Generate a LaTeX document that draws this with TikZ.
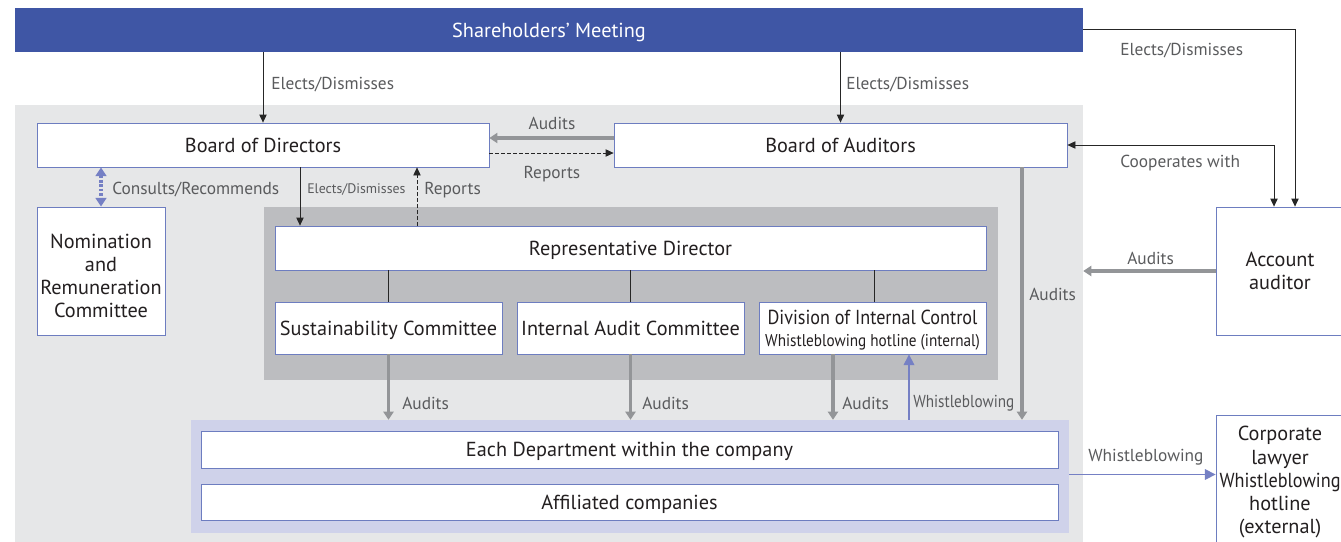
\documentclass[tikz,border=0pt]{standalone}
\usepackage{fontspec}
\usepackage{graphicx}
\setmainfont{PT Sans}
\usetikzlibrary{arrows.meta,calc}
\definecolor{shblue}{HTML}{3F56A5}
\definecolor{panelgray}{HTML}{E6E7E8}
\definecolor{darkpanel}{HTML}{BCBDC0}
\definecolor{lavender}{HTML}{CFD2EA}
\definecolor{boxblue}{HTML}{6D7DC0}
\definecolor{midgray}{HTML}{939598}
\definecolor{lblgray}{HTML}{5A5B5D}
\definecolor{textdark}{HTML}{231F20}
\definecolor{wbblue}{HTML}{7580C4}
\begin{document}
\begin{tikzpicture}[x=0.75pt,y=-0.75pt,
  area/.style n args={4}{minimum width={(#3-#1)*0.75pt}, minimum height={(#4-#2)*0.75pt},
    at={({(#1+#3)/2},{(#2+#4)/2})}},
  box/.style={draw=boxblue, line width=0.6pt, fill=white, inner sep=1pt, align=center,
    font=\fontsize{15.2}{17.4}\selectfont, text=textdark, text depth=-3pt},
  panel/.style={draw=none, inner sep=0pt},
  lbl/.style={font=\fontsize{13}{15}\selectfont, text=lblgray, inner sep=0pt},
  lblsmall/.style={font=\fontsize{10.4}{12}\selectfont, text=lblgray, inner sep=0pt},
  thinarr/.style={draw=black!85, line width=0.6pt, -{Triangle[length=6pt,width=5.5pt]}},
  dasharr/.style={draw=black!85, line width=0.6pt, dash pattern=on 2.5pt off 2pt, -{Triangle[length=6pt,width=5.5pt]}},
  grayarr/.style={draw=midgray, line width=2.3pt, -{Triangle[length=6pt,width=7.5pt]}},
  wbarr/.style={draw=wbblue, line width=0.9pt, -{Triangle[length=8pt,width=8pt]}},
  consult/.style={draw=wbblue, line width=2.4pt, dash pattern=on 2pt off 1.3pt, {Triangle[length=6.5pt,width=8pt]}-{Triangle[length=6.5pt,width=8pt]}},
  plainline/.style={draw=black!85, line width=0.6pt}
]
\useasboundingbox (0,0) rectangle (1341,542);

% panels
\node[panel, fill=panelgray, area={15}{105}{1083}{542}] (gp) {};
\node[panel, fill=darkpanel, area={264}{207}{998}{380}] (dp) {};
\node[panel, fill=lavender, area={191}{420}{1069}{533}] (lp) {};
\node[panel, fill=shblue, area={15}{8}{1083}{52}, text=white, text depth=-0.5pt, font=\fontsize{15.2}{17}\selectfont] (sh) {Shareholders’ Meeting};

% boxes
\node[box, area={37}{123}{489}{167}] (bod) {Board of Directors};
\node[box, area={614}{123}{1067}{167}] (boa) {Board of Auditors};
\node[box, area={37}{207}{165}{335}] (nom) {\rule{0pt}{18pt}Nomination\\and\\Remuneration\\Committee};
\node[box, area={275}{226}{986}{270}] (rd) {Representative Director};
\node[box, area={275}{302}{502}{354}, text depth=-1.5pt] (sc) {Sustainability Committee};
\node[box, area={517}{302}{744}{354}, text depth=-1.5pt] (iac) {Internal Audit Committee};
\node[box, area={759}{302}{986}{354}] (dic) {\resizebox{157.5pt}{\height}{Division of Internal Control}\\[-1pt]{\fontsize{12.8}{14}\selectfont\resizebox{161pt}{\height}{Whistleblowing hotline (internal)}}};
\node[box, area={201}{431}{1058}{468}] (dep) {Each Department within the company};
\node[box, area={201}{484}{1058}{520}] (aff) {Affiliated companies};
\node[box, area={1216}{207}{1344}{335}, text depth=0pt] (aa) {Account\\auditor};
\node[box, area={1216}{415}{1344}{545}] (cl) {Corporate\\lawyer\\\resizebox{90.75pt}{\height}{Whistleblowing}\\hotline\\(external)};

% x positions
\coordinate (xelect) at (300,0);
\coordinate (xrep) at (417,0);
\coordinate (xdicl) at (874,0);
\coordinate (xdica) at (833,0);
\coordinate (xwb) at (909,0);
\coordinate (xboa) at (1022,0);
\coordinate (xcoop) at (1274,0);
\coordinate (xel) at (1295,0);

% connectors
\draw[thinarr] (bod.north |- sh.south) -- (bod.north);
\draw[thinarr] (boa.north |- sh.south) -- (boa.north);
\draw[grayarr] ($(boa.west)+(0,-7)$) -- ($(bod.east)+(0,-7)$);
\draw[dasharr] ($(bod.east)+(0,8)$) -- ($(boa.west)+(0,8)$);
\draw[consult] (bod.south -| nom.north) -- (nom.north);
\draw[thinarr] (bod.south -| xelect) -- (rd.north -| xelect);
\draw[dasharr] (rd.north -| xrep) -- (bod.south -| xrep);
\draw[plainline] (rd.south -| sc.north) -- (sc.north);
\draw[plainline] (rd.south -| iac.north) -- (iac.north);
\draw[plainline] (rd.south -| xdicl) -- (dic.north -| xdicl);
\draw[grayarr] (sc.south) -- (lp.north -| sc.south);
\draw[grayarr] (iac.south) -- (lp.north -| iac.south);
\draw[grayarr] (dic.south -| xdica) -- (lp.north -| xdica);
\draw[wbarr] (lp.north -| xwb) -- (dic.south -| xwb);
\draw[grayarr] (boa.south -| xboa) -- (lp.north -| xboa);
\draw[thinarr] ($(sh.east)+(0,-1)$) -| (aa.north -| xel);
\draw[thinarr, {Triangle[length=6pt,width=5.5pt]}-{Triangle[length=6pt,width=5.5pt]}] (boa.east) -| (aa.north -| xcoop);
\draw[grayarr] (aa.west) -- (aa.west -| gp.east);
\draw[wbarr] ($(lp.east)+(0,-2)$) -- ($(lp.east -| cl.west)+(0,-2)$);

% labels
\node[lbl, anchor=west] (l1) at (271,85) {Elects/Dismisses};
\node[lbl, anchor=west] (l2) at (846,85) {Elects/Dismisses};
\node[lbl] (l3) at (552,123) {Audits};
\node[lbl] (l4) at (552,174) {Reports};
\node[lbl, anchor=west] (l5) at (112,190) {Consults/Recommends};
\node[lblsmall, anchor=west] (l6) at (307,190) {Elects/Dismisses};
\node[lbl, anchor=west] (l7) at (424,190) {Reports};
\node[lbl, anchor=west] (l8) at (402,403) {Audits};
\node[lbl, anchor=west] (l9) at (642,403) {Audits};
\node[lbl, anchor=west] (l10) at (842,403) {Audits};
\node[lbl, anchor=west] (l11) at (913,403) {\resizebox{75.75pt}{\height}{Whistleblowing}};
\node[lbl, anchor=west] (l12) at (1029,294) {Audits};
\node[lbl, anchor=west] (l13) at (1120,51) {Elects/Dismisses};
\node[lbl, anchor=west] (l14) at (1120,163) {Cooperates with};
\node[lbl, anchor=west] (l15) at (1127,258) {Audits};
\node[lbl, anchor=west] (l16) at (1088,457) {Whistleblowing};
\end{tikzpicture}
\end{document}
